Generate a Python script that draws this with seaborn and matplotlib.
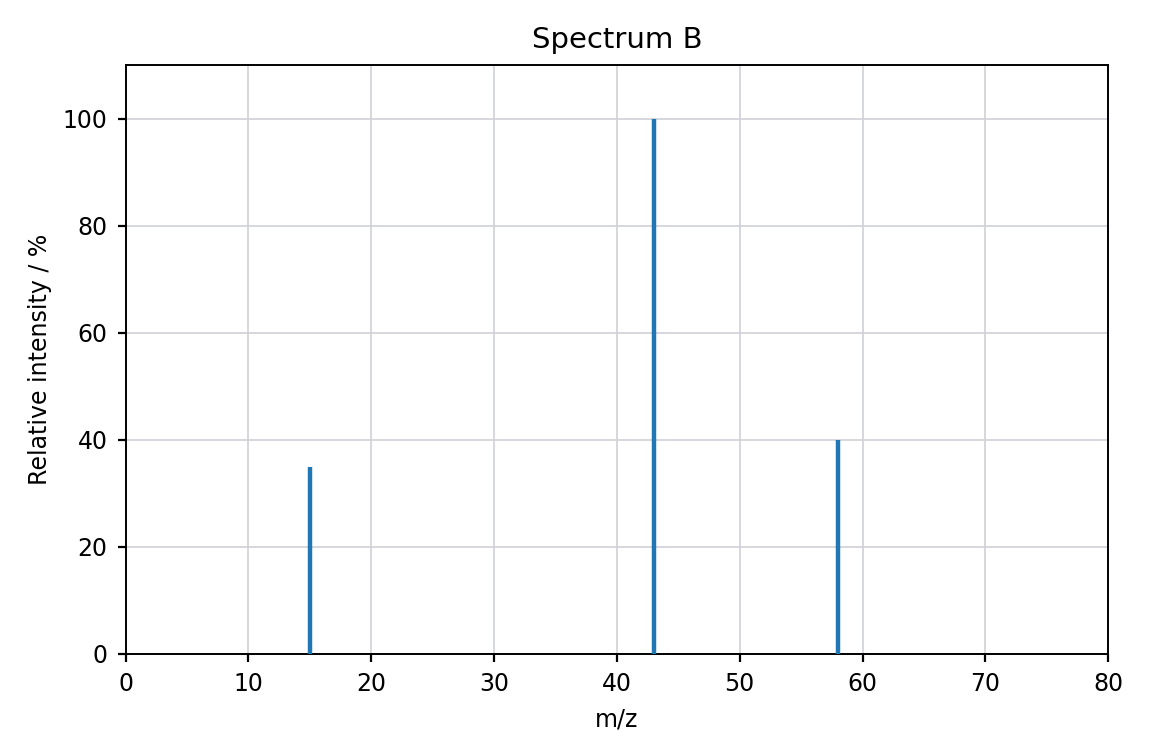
import matplotlib
matplotlib.use("Agg")
import matplotlib.pyplot as plt
import seaborn as sns
import pandas as pd

mz = [15, 43, 58]
intensity = [35, 100, 40]

sns.set_style("whitegrid", {"grid.color": "#cfd0d8", "axes.edgecolor": "black",
                            "text.color": "black", "axes.labelcolor": "black",
                            "xtick.color": "black", "ytick.color": "black"})
plt.rcParams['font.family'] = ['DejaVu Sans']
fig = plt.figure(figsize=(5.76, 3.78), dpi=200)
ax = fig.add_axes([0.109, 0.135, 0.853, 0.779])
df = pd.DataFrame({"mz": mz, "I": intensity})
ax.vlines(df["mz"], 0, df["I"], color="#1f77b4", linewidth=1.6, zorder=3)
ax.set_xlim(0, 80)
ax.set_ylim(0, 110)
ax.set_xticks(range(0, 81, 10))
ax.set_yticks(range(0, 101, 20))
ax.set_xlabel("m/z", fontsize=8.5)
ax.set_ylabel("Relative intensity / %", fontsize=8.5)
ax.set_title("Spectrum B", fontsize=10.5)
ax.tick_params(labelsize=8.5, length=3, left=True, bottom=True)
ax.grid(linewidth=0.6)
for s in ax.spines.values():
    s.set_linewidth(0.7)
fig.savefig("out.png", dpi=200)
